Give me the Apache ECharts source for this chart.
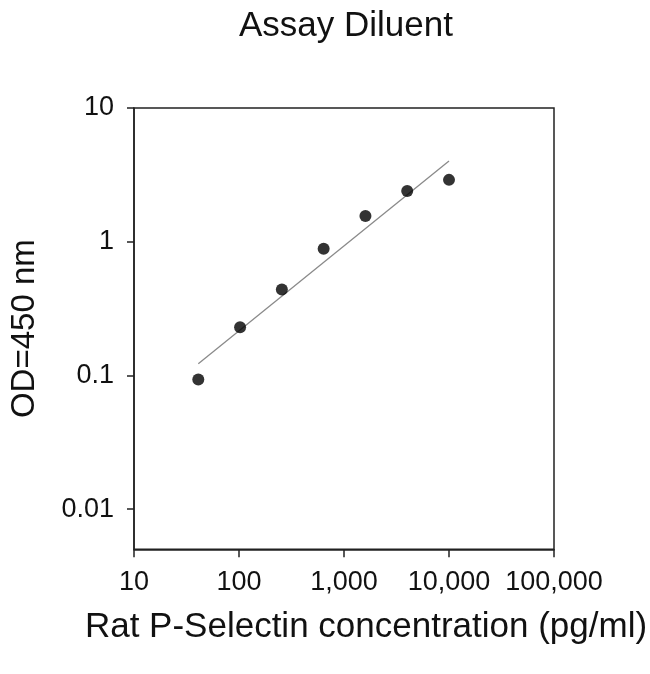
<!DOCTYPE html>
<html>
<head>
<meta charset="utf-8">
<script src="https://cdn.jsdelivr.net/npm/echarts@6/dist/echarts.min.js"></script>
<style>html,body{margin:0;padding:0;background:#fff}#c{width:650px;height:674px}</style>
</head>
<body>
<div id="c"></div>
<script>
var concentration = [40.96, 102.4, 256, 640, 1600, 4000, 10000];
var od450 = [0.093, 0.229, 0.439, 0.887, 1.556, 2.39, 2.9];
var fitX = [40.96, 10000];
var fitY = [0.1224, 4.02];
var xTicks = [10, 100, 1000, 10000, 100000];
var yTicks = [0.01, 0.1, 1, 10];

var pts = concentration.map(function (c, i) { return [c, od450[i]]; });
var fit = fitX.map(function (c, i) { return [c, fitY[i]]; });
var FONT = 'Liberation Sans, Arial, sans-serif';

var chart = echarts.init(document.getElementById('c'), null, {renderer: 'canvas'});
chart.setOption({
  animation: false,
  backgroundColor: '#fff',
  title: {
    text: 'Assay Diluent',
    left: 341, top: 4, textAlign: 'center',
    textStyle: {fontFamily: FONT, fontSize: 35, fontWeight: 'normal', color: '#111'}
  },
  grid: {left: 133.5, right: 96, top: 108, bottom: 124.7, show: true, borderColor: '#222', borderWidth: 1.5},
  xAxis: {
    type: 'log', logBase: 10, min: 10, max: 100000,
    name: 'Rat P-Selectin concentration (pg/ml)',
    nameLocation: 'middle', nameGap: 61,
    nameTextStyle: {fontFamily: FONT, fontSize: 35, color: '#111', padding: [0, 0, 0, 44]},
    axisLine: {show: true, lineStyle: {color: '#222', width: 1.5}},
    axisTick: {show: true, inside: false, length: 8, lineStyle: {color: '#222', width: 1.5}, customValues: xTicks},
    axisLabel: {
      fontFamily: FONT, fontSize: 27, color: '#111', margin: 20, customValues: xTicks,
      formatter: function (v) { return Math.round(v).toLocaleString('en-US'); }
    },
    splitLine: {show: false},
    minorTick: {show: false}
  },
  yAxis: {
    type: 'log', logBase: 10, min: 0.005, max: 10,
    name: 'OD=450 nm',
    nameLocation: 'middle', nameGap: 93, nameRotate: 90,
    nameTextStyle: {fontFamily: FONT, fontSize: 33, color: '#111'},
    axisLine: {show: true, lineStyle: {color: '#222', width: 1.5}},
    axisTick: {show: true, inside: false, length: 7, lineStyle: {color: '#222', width: 1.5}, customValues: yTicks},
    axisLabel: {
      fontFamily: FONT, fontSize: 27, color: '#111', margin: 20, customValues: yTicks,
      formatter: function (v) { return String(parseFloat(v.toPrecision(3))); }
    },
    splitLine: {show: false}
  },
  series: [
    {
      type: 'line', data: fit, showSymbol: false, symbol: 'none',
      lineStyle: {color: '#8a8a8a', width: 1.3}, silent: true, z: 1
    },
    {
      type: 'scatter', data: pts, symbol: 'circle', symbolSize: 12,
      itemStyle: {color: '#000'}, z: 2
    }
  ]
});
</script>
</body>
</html>
